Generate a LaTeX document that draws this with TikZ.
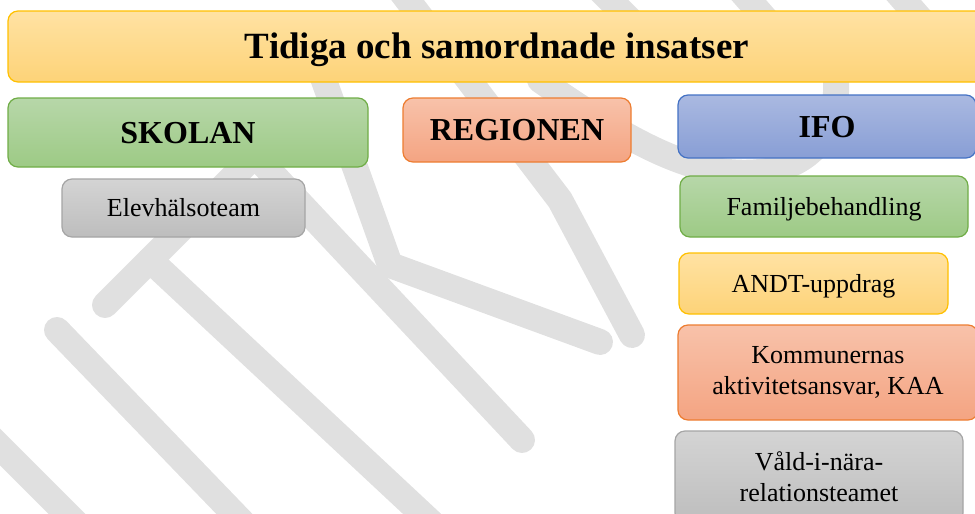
\documentclass[tikz,border=0pt]{standalone}
\usepackage{fontspec}
\setmainfont{Liberation Serif}
\usepackage{tikz}
\usetikzlibrary{positioning,shadings}

\definecolor{ylwtop}{HTML}{FFE2A3}
\definecolor{ylwbot}{HTML}{FDD378}
\definecolor{ylwline}{HTML}{FFC000}
\definecolor{grntop}{HTML}{B7D7A9}
\definecolor{grnbot}{HTML}{9DCA85}
\definecolor{grnline}{HTML}{70AD47}
\definecolor{orgtop}{HTML}{F8C2AA}
\definecolor{orgbot}{HTML}{F4A482}
\definecolor{orgline}{HTML}{ED7D31}
\definecolor{blutop}{HTML}{AAB9E1}
\definecolor{blubot}{HTML}{889ED5}
\definecolor{bluline}{HTML}{4472C4}
\definecolor{grytop}{HTML}{D4D4D4}
\definecolor{grybot}{HTML}{BDBDBD}
\definecolor{gryline}{HTML}{A5A5A5}
\definecolor{wmgrey}{HTML}{E0E0E0}

\begin{document}
\begin{tikzpicture}[x=1pt,y=-1pt,
    box/.style={rounded corners=10pt,line width=1.2pt,inner sep=0pt,align=center,
      font=\fontsize{26}{31}\selectfont},
    oneline/.style={text height=17pt,text depth=0pt},
    head/.style={text height=21.5pt,text depth=0pt,font=\fontsize{32}{38}\selectfont\bfseries},
    ylw/.style={box,draw=ylwline,top color=ylwtop,bottom color=ylwbot},
    grn/.style={box,draw=grnline,top color=grntop,bottom color=grnbot},
    org/.style={box,draw=orgline,top color=orgtop,bottom color=orgbot},
    blu/.style={box,draw=bluline,top color=blutop,bottom color=blubot},
    gry/.style={box,draw=gryline,top color=grytop,bottom color=grybot},
    wm/.style={line width=26pt,line cap=round,line join=round,color=wmgrey}]

  \useasboundingbox (0,0) rectangle (975,514);
  \clip (0,0) rectangle (975,514);

  %watermark
  \draw[wm] (-40,407) -- (120,567);
  \draw[wm] (57,330) -- (245,525);
  \draw[wm] (105,305) -- (255,155);
  \draw[wm] (150,260) -- (450,540);
  \draw[wm] (250,150) -- (522,440);
  \draw[wm] (322,75) -- (390,265) -- (600,342);
  \draw[wm] (400,-10) -- (560,200) -- (632,335);
  \draw[wm] (540,80) .. controls (640,150) and (700,178) .. (760,172)
    .. controls (820,166) and (850,120) .. (830,40);
  \draw[wm] (600,-10) -- (640,30);
  \draw[wm] (740,-10) -- (775,30);
  \draw[wm] (895,-10) -- (930,30);

  %title
  \node[ylw,text height=24.5pt,text depth=0pt,minimum width=978pt,minimum height=71pt,
    font=\fontsize{37}{44}\selectfont\bfseries] (title) at (497,46.5) {Tidiga och samordnade insatser};

  %heads
  \node[grn,head,minimum width=360pt,minimum height=69pt] (skolan) at (188,132.5) {SKOLAN};
  \node[org,head,minimum width=228pt,minimum height=64pt] (region) at (517,130) {REGIONEN};
  \node[blu,head,minimum width=298pt,minimum height=63pt] (ifo) at (827,126.5) {IFO};

  %skolan
  \node[gry,oneline,minimum width=243pt,minimum height=58pt] (elev) at (183.5,208) {Elevhälsoteam};

  %ifo
  \node[grn,oneline,minimum width=288pt,minimum height=61pt] (famil) at (824,206.5) {Familjebehandling};
  \node[ylw,oneline,minimum width=269pt,minimum height=61pt] (andt) at (813.5,283.5) {ANDT-uppdrag};
  \node[org,minimum width=300pt,minimum height=95pt] (kaa) at (828,372.5) {Kommunernas\\aktivitetsansvar, KAA};
  \node[gry,minimum width=288pt,minimum height=92pt] (vald) at (819,477) {Våld-i-nära-\\relationsteamet};
\end{tikzpicture}
\end{document}
